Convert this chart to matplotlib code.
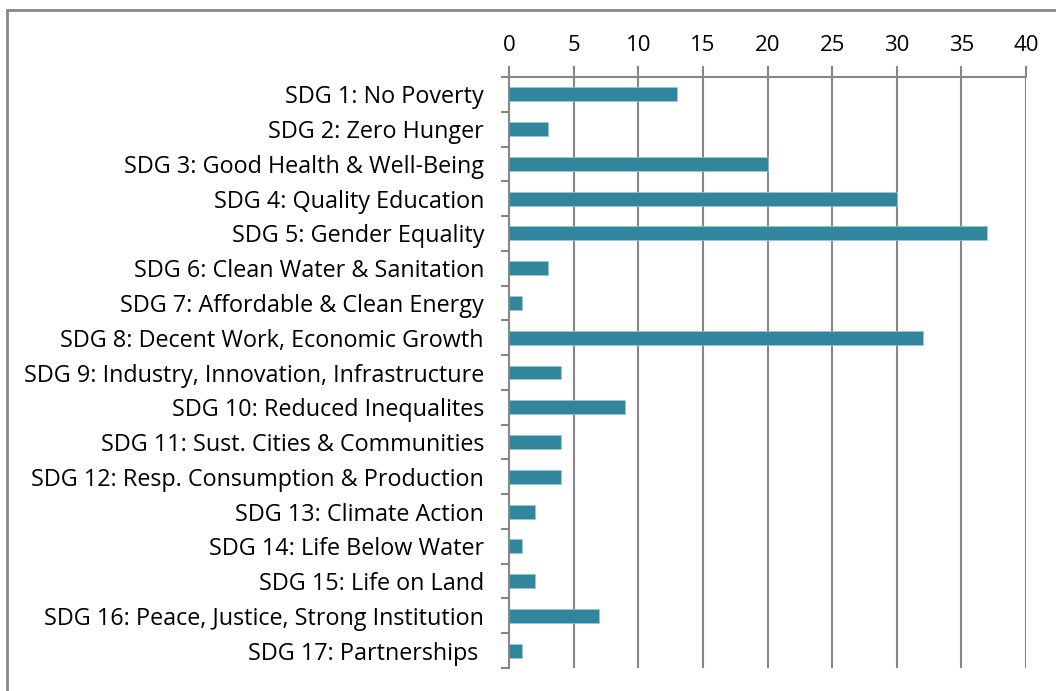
import matplotlib
matplotlib.use("Agg")
import matplotlib.pyplot as plt
from matplotlib.patches import Rectangle
import numpy as np

categories = [
    "SDG 1: No Poverty",
    "SDG 2: Zero Hunger",
    "SDG 3: Good Health & Well-Being",
    "SDG 4: Quality Education",
    "SDG 5: Gender Equality",
    "SDG 6: Clean Water & Sanitation",
    "SDG 7: Affordable & Clean Energy",
    "SDG 8: Decent Work, Economic Growth",
    "SDG 9: Industry, Innovation, Infrastructure",
    "SDG 10: Reduced Inequalites",
    "SDG 11: Sust. Cities & Communities",
    "SDG 12: Resp. Consumption & Production",
    "SDG 13: Climate Action",
    "SDG 14: Life Below Water",
    "SDG 15: Life on Land",
    "SDG 16: Peace, Justice, Strong Institution",
    "SDG 17: Partnerships ",
]
values = [13, 3, 20, 30, 37, 3, 1, 32, 4, 9, 4, 4, 2, 1, 2, 7, 1]
xticks = [0, 5, 10, 15, 20, 25, 30, 35, 40]

plt.rcParams['font.family'] = ['Open Sans', 'DejaVu Sans']
grey = "#878787"
bar_color = "#31859C"

fig = plt.figure(figsize=(10.56, 6.91), dpi=100)
W, H = 1056, 691
ax = fig.add_axes([509 / W, 1 - 668 / H, (1026 - 509) / W, (668 - 77) / H])

n = len(categories)
y = np.arange(n)
ax.barh(y, values, height=0.4, color=bar_color, edgecolor="#9cc9d4", linewidth=0.5, zorder=3)
ax.set_ylim(n - 0.5, -0.5)
ax.set_xlim(0, 40)

ax.xaxis.tick_top()
ax.set_xticks(xticks)
ax.set_xticklabels([str(t) for t in xticks], fontsize=16)
ax.tick_params(axis='x', which='major', direction='out', length=8, width=1.5, color=grey, pad=7)
ax.grid(axis='x', color=grey, linewidth=1.5, zorder=1)

ax.set_yticks(y)
ax.set_yticklabels(categories, fontsize=16.8)
ax.tick_params(axis='y', which='major', length=0, pad=18)
ax.set_yticks(np.arange(n + 1) - 0.5, minor=True)
ax.tick_params(axis='y', which='minor', direction='out', length=6, width=1.5, color=grey)

for s in ['right', 'bottom']:
    ax.spines[s].set_visible(False)
for s in ['left', 'top']:
    ax.spines[s].set_color(grey)
    ax.spines[s].set_linewidth(1.5)
    ax.spines[s].set_zorder(4)

# outer border (chart area)
fig.patches.append(Rectangle((7 / W, -0.1), 1.2, 1 - 10 / H + 0.1, transform=fig.transFigure,
                             fill=False, edgecolor=grey, linewidth=2))

fig.savefig("out.png", dpi=100)
